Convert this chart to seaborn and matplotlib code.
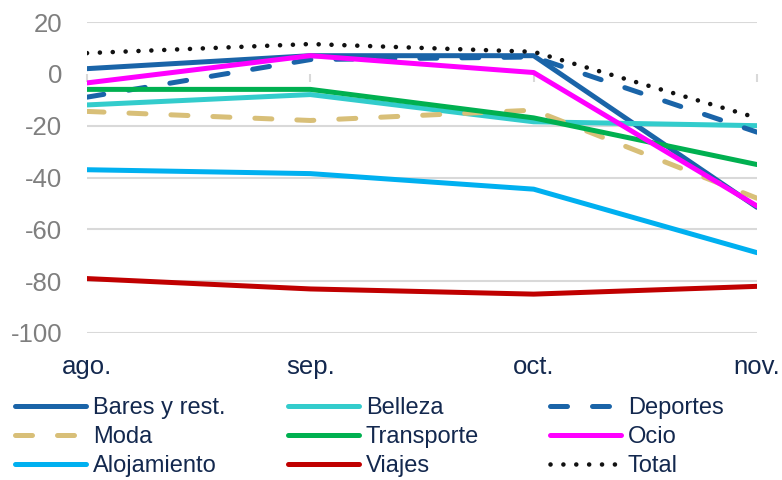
import numpy as np
import matplotlib
matplotlib.use("Agg")
import matplotlib.pyplot as plt
import pandas as pd
import seaborn as sns
from matplotlib.lines import Line2D

months = ["ago.", "sep.", "oct.", "nov."]

bares = [2, 7, 7, -51.5]
belleza = [-12, -8, -18.5, -20]
deportes = [-9, 5.5, 6.5, -22.5]
moda = [-14.5, -18, -14, -48]
transporte = [-6, -6, -17, -35]
ocio = [-3.5, 7, 0.5, -51]
alojamiento = [-37, -38.5, -44.5, -69]
viajes = [-79, -83, -85, -82]
total = [8, 11.5, 8.5, -17]

series = [
    ("Bares y rest.", bares, "#1A64A8", "-"),
    ("Belleza", belleza, "#33CCCC", "-"),
    ("Deportes", deportes, "#1A64A8", (0, (3.4, 5))),
    ("Moda", moda, "#D8BF78", (0, (3.4, 5))),
    ("Transporte", transporte, "#00B050", "-"),
    ("Ocio", ocio, "#FF00FF", "-"),
    ("Alojamiento", alojamiento, "#00B0F0", "-"),
    ("Viajes", viajes, "#C00000", "-"),
    ("Total", total, "#111111", (0, (0.01, 2.8))),
]

sns.set_theme(style="white")
plt.rcParams['font.family'] = ['Liberation Sans', 'DejaVu Sans']
plt.rcParams['axes.unicode_minus'] = False

txt = "#13284E"
grid = "#D9D9D9"

fig = plt.figure(figsize=(7.82, 4.8), dpi=100)
ax = fig.add_axes([87 / 782, 1 - 333 / 480, 670 / 782, 311 / 480])

estilo = {}
for i, (name, vals, col, ls) in enumerate(series):
    df = pd.DataFrame({"mes": months, "valor": vals})
    lw = 3.3 if name == "Total" else 3.6
    sns.lineplot(data=df, x="mes", y="valor", ax=ax, color=col, lw=lw,
                 sort=False, zorder=3 + i)
    ln = ax.lines[-1]
    ln.set_linestyle(ls)
    ln.set_dash_capstyle("round")
    ln.set_solid_capstyle("round")
    estilo[name] = (col, lw, ls)

ax.set_xlim(0, 3)
ax.set_ylim(-100, 20)
ax.set_yticks(np.arange(-100, 21, 20))
for y in np.arange(-100, 21, 20):
    if y != 0:
        ax.axhline(y, color=grid, lw=1.5, zorder=1)

for s in ax.spines.values():
    s.set_visible(False)
ax.set_xlabel("")
ax.set_ylabel("")
ax.tick_params(axis="y", length=0, pad=18, labelsize=18.5, labelcolor="#7F7F7F")
ax.tick_params(axis="x", length=0, pad=16, labelsize=18.5, labelcolor=txt)

# eje en el cero con marcas
sec = ax.secondary_xaxis(100 / 120)
sec.set_xticks(range(len(months)))
sec.set_xticklabels([])
sec.tick_params(axis="x", bottom=True, top=False, direction="out",
                length=6, width=1.5, color=grid)
sec.spines["bottom"].set_color(grid)
sec.spines["bottom"].set_linewidth(1.5)
sec.spines["top"].set_visible(False)
sec.set_zorder(1)

cols = [["Bares y rest.", "Moda", "Alojamiento"],
        ["Belleza", "Transporte", "Viajes"],
        ["Deportes", "Ocio", "Total"]]
xpos = [15, 288, 550]
for names, xp in zip(cols, xpos):
    hs = []
    for n in names:
        col, lw, ls = estilo[n]
        hs.append(Line2D([], [], color=col, lw=lw, linestyle=ls,
                         dash_capstyle="round", solid_capstyle="round"))
    leg = fig.legend(hs, names, loc="upper left",
                     bbox_to_anchor=(xp / 782, 1 - 397 / 480),
                     frameon=False, fontsize=17, handlelength=3.0,
                     handletextpad=0.3, labelspacing=0.30, borderpad=0,
                     borderaxespad=0)
    for t in leg.get_texts():
        t.set_color(txt)

fig.savefig("out.png", dpi=100)
